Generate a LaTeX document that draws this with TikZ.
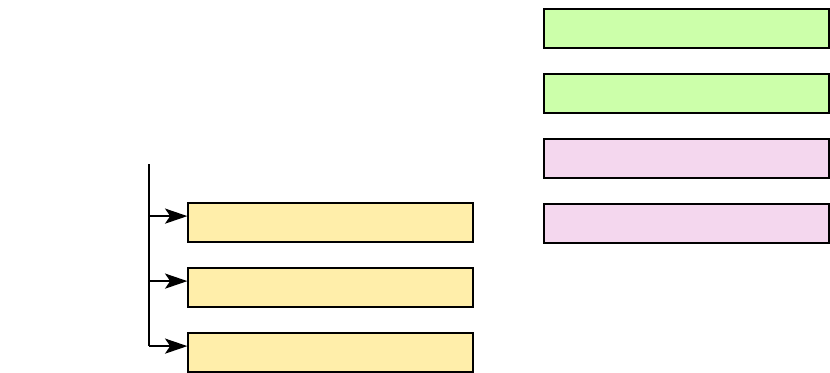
\documentclass[tikz,border=0pt]{standalone}
\usepackage{tikz}
\usetikzlibrary{arrows.meta}
\definecolor{lightyellow}{RGB}{255,238,170}
\definecolor{lightgreen}{RGB}{204,255,170}
\definecolor{lightpink}{RGB}{244,215,238}

\begin{document}
\begin{tikzpicture}[
    block/.style={rectangle, draw, line width=0.9pt, minimum width=7.125cm, minimum height=0.975cm, inner sep=0pt},
    rel/.style={-{Stealth[length=5.6mm, width=3.8mm, inset=1.3mm]}, line width=0.9pt}
]
    \useasboundingbox (0,0) rectangle (20.75,-9.325);

    % Nodes
    \node[block, fill=lightgreen] (green1) at (17.1625,-0.7125) {};
    \node[block, fill=lightgreen] (green2) at (17.1625,-2.3375) {};
    \node[block, fill=lightpink] (pink1) at (17.1625,-3.9625) {};
    \node[block, fill=lightpink] (pink2) at (17.1625,-5.5875) {};

    \node[block, fill=lightyellow] (item1) at (8.2625,-5.5625) {};
    \node[block, fill=lightyellow] (item2) at (8.2625,-7.1875) {};
    \node[block, fill=lightyellow] (item3) at (8.2625,-8.8125) {};

    \coordinate (trunk) at (3.725,-4.1);

    % Relations
    \foreach \i in {1,2,3}
        \coordinate (in\i) at ([yshift=1.6mm]item\i.west);
    \draw[line width=0.9pt] (trunk) -- (trunk |- in3);
    \foreach \i in {1,2,3}
        \draw[rel] (trunk |- in\i) -- (in\i);
\end{tikzpicture}
\end{document}
